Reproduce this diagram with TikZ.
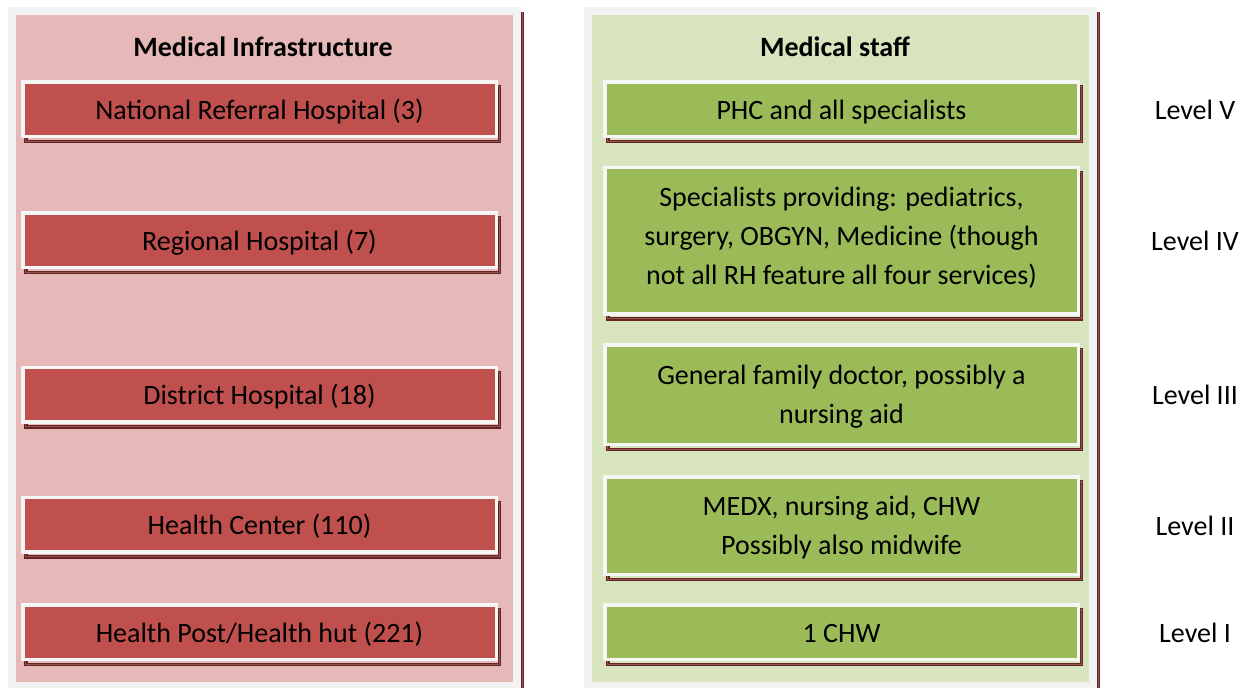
\documentclass[tikz,border=0pt]{standalone}
\usepackage{fontspec}
\setmainfont{Carlito}
\usetikzlibrary{shadows}

\definecolor{framegray}{HTML}{F2F2F2}
\definecolor{pinkpanel}{HTML}{E6B9B8}
\definecolor{greenpanel}{HTML}{D7E4BD}
\definecolor{redbox}{HTML}{C0504D}
\definecolor{greenbox}{HTML}{9BBB59}
\definecolor{maroon}{HTML}{632523}
\definecolor{maroonmid}{HTML}{96524F}
\definecolor{rimwhite}{HTML}{F6F6F6}

\tikzset{
  txt/.style={font=\fontsize{28}{39}\selectfont, align=center, inner sep=0pt},
  boxbase/.style={txt, draw=rimwhite, line width=3.5pt,
    minimum width=473.5pt,
    general shadow={shadow xshift=3pt, shadow yshift=-5pt,
      draw=maroon, double=maroonmid, line width=1.3pt, double distance=0.9pt}},
  redcell/.style={boxbase, fill=redbox},
  greencell/.style={boxbase, fill=greenbox},
  % text box heights are measured from the baseline of the last line
  oneline/.style={text height=27pt, text depth=7pt, minimum height=54.5pt},
  twolines/.style={text height=60pt, text depth=2pt},
  threelines/.style={text height=99pt, text depth=12pt},
  heading/.style={txt, font=\fontsize{28}{39}\selectfont\bfseries},
  levellabel/.style={txt},
  edgeline/.style={draw=maroon, double=maroonmid, line width=0.9pt, double distance=0.8pt}
}

\begin{document}
\begin{tikzpicture}[x=1pt, y=-1pt]
  \useasboundingbox (0,0) rectangle (1241,688);

  % two column panels with light frame and dark right edge
  \fill[framegray] (8,7) rectangle (521,688);
  \fill[pinkpanel] (16,15) rectangle (513,682);
  \draw[edgeline] (522.4,12) -- (522.4,688);

  \fill[framegray] (584,7) rectangle (1097,688);
  \fill[greenpanel] (592,15) rectangle (1089,682);
  \draw[edgeline] (1098.4,12) -- (1098.4,688);

  % column headings
  \node[heading] (infra) at (263,47) {Medical Infrastructure};
  \node[heading] (staff) at (835,47) {Medical staff};

  % infrastructure column
  \node[redcell, oneline] (nrh) at (259.5,109) {National Referral Hospital (3)};
  \node[redcell, oneline] (rh)  at (259.5,240) {Regional Hospital (7)};
  \node[redcell, oneline] (dh)  at (259.5,394.5) {District Hospital (18)};
  \node[redcell, oneline] (hc)  at (259.5,524.5) {Health Center (110)};
  \node[redcell, oneline] (hp)  at (259.5,632) {Health Post/Health hut (221)};

  % staff column
  \node[greencell, oneline] (s5) at (841.5,109) {PHC and all specialists};
  \node[greencell, threelines, minimum height=146.5pt] (s4) at (841.5,240.5)
    {Specialists providing: pediatrics,\\ surgery, OBGYN, Medicine (though\\ not all RH feature all four services)};
  \node[greencell, twolines, minimum height=99.5pt] (s3) at (841.5,394.5)
    {General family doctor, possibly a\\ nursing aid};
  \node[greencell, twolines, minimum height=97.5pt] (s2) at (841.5,525.5)
    {MEDX, nursing aid, CHW\\ Possibly also midwife};
  \node[greencell, oneline] (s1) at (841.5,632) {1 CHW};

  % level labels
  \node[levellabel] (l5) at (1195,110) {Level V};
  \node[levellabel] (l4) at (1195,241) {Level IV};
  \node[levellabel] (l3) at (1195,395) {Level III};
  \node[levellabel] (l2) at (1195,526) {Level II};
  \node[levellabel] (l1) at (1195,633) {Level I};
\end{tikzpicture}
\end{document}
